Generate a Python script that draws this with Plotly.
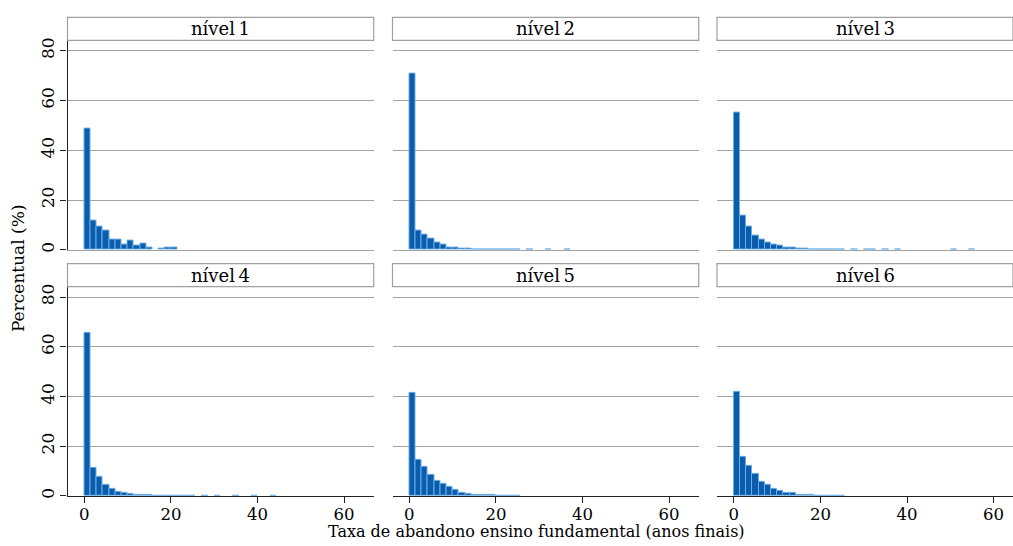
import plotly.graph_objects as go

# Histogram of dropout rate (percent of schools per bin), one panel per level
bin_width = 1.43
panel_titles = ["nível\u20091", "nível\u20092", "nível\u20093",
                "nível\u20094", "nível\u20095", "nível\u20096"]

nivel_1 = [48.7, 11.8, 9.3, 7.6, 3.9, 3.9, 1.9, 3.5, 1.5, 2.3, 0.7, 0.0, 0.3, 0.9, 0.9]
nivel_2 = [70.9, 7.6, 6.0, 4.3, 2.7, 2.1, 0.9, 0.8, 0.4, 0.3, 0.2, 0.2, 0.1, 0.1,
           0.1, 0.1, 0.1, 0.05, 0.0, 0.05, 0.0, 0.0, 0.05, 0.0, 0.0, 0.05]
nivel_3 = [55.0, 13.9, 9.4, 5.8, 4.2, 2.9, 1.9, 1.5, 0.9, 0.7, 0.4, 0.3, 0.2, 0.15,
           0.1, 0.1, 0.05, 0.05, 0.0, 0.05, 0.0, 0.05, 0.05, 0.0, 0.05, 0.0,
           0.05, 0.0, 0.0, 0.0, 0.0, 0.0, 0.0, 0.0, 0.0, 0.05, 0.0, 0.0, 0.05]
nivel_4 = [65.6, 11.2, 7.6, 4.4, 2.8, 1.8, 1.1, 0.7, 0.4, 0.3, 0.2, 0.15, 0.1, 0.1,
           0.05, 0.05, 0.05, 0.05, 0.0, 0.05, 0.0, 0.05, 0.0, 0.0, 0.05, 0.0,
           0.0, 0.05, 0.0, 0.0, 0.05]
nivel_5 = [41.6, 14.4, 11.6, 8.4, 6.0, 4.9, 3.7, 2.4, 1.3, 0.8, 0.4, 0.4, 0.3, 0.2,
           0.1, 0.1, 0.05, 0.05]
nivel_6 = [41.9, 15.7, 12.0, 8.8, 5.7, 4.5, 2.8, 2.0, 1.2, 1.0, 0.4, 0.3, 0.2, 0.15,
           0.1, 0.1, 0.05, 0.05]
series = [nivel_1, nivel_2, nivel_3, nivel_4, nivel_5, nivel_6]

y_ticks = [0, 20, 40, 60, 80]
x_ticks = [0, 20, 40, 60]

W, H = 1013, 546
FONT = "DejaVu Serif"
FILL = "#0a5cad"
EDGE = "#6cade6"
GRID = "#a3a3a3"
AXIS = "#222222"

# panel geometry in pixels
col_px = [(67.5, 373.7), (392.5, 698.7), (717.0, 1013.0)]
row_px = [(38.0, 249.5), (287.0, 498.3)]
px_per_unit = 4.33
x0_offset = 16.8  # pixels from panel left edge to x = 0


def fx(px):
    return px / W


def fy(py):
    return 1 - py / H


fig = go.Figure()
layout = dict(
    width=W, height=H,
    margin=dict(l=0, r=0, t=0, b=0),
    paper_bgcolor="white", plot_bgcolor="white",
    showlegend=False, bargap=0,
    font=dict(family=FONT, size=17, color="black"),
)
shapes, annotations = [], []

for i, vals in enumerate(series):
    r, c = divmod(i, 3)
    k = "" if i == 0 else str(i + 1)
    xl, xr = col_px[c]
    yt, yb = row_px[r]
    # empty bins are not drawn
    centers = [(j + 0.5) * bin_width for j, v in enumerate(vals) if v > 0]
    heights = [v for v in vals if v > 0]
    fig.add_trace(go.Bar(
        x=centers, y=heights, width=bin_width,
        marker=dict(color=FILL, line=dict(color=EDGE, width=1)),
        xaxis="x" + k, yaxis="y" + k, hoverinfo="x+y",
    ))
    x_lo = -x0_offset / px_per_unit
    x_hi = x_lo + (xr - xl) / px_per_unit
    bottom = r == 1
    layout["xaxis" + k] = dict(
        domain=[fx(xl), fx(xr)], anchor="y" + k, range=[x_lo, x_hi],
        showgrid=False, zeroline=False,
        showline=True, linecolor=AXIS if bottom else GRID,
        linewidth=1.4 if bottom else 1,
        tickvals=x_ticks, ticks="outside" if bottom else "",
        ticklen=6, tickcolor=AXIS, tickwidth=1.2, ticklabelstandoff=-3,
        showticklabels=bottom, tickfont=dict(family=FONT, size=16.5),
    )
    left = c == 0
    layout["yaxis" + k] = dict(
        domain=[fy(yb), fy(yt)], anchor="x" + k, range=[0, 84.1],
        tickvals=y_ticks, showgrid=True, gridcolor=GRID, gridwidth=1,
        zeroline=False,
        showline=left, linecolor=AXIS, linewidth=1.2,
        ticks="outside" if left else "", ticklen=6, tickcolor=AXIS, tickwidth=1.2,
        showticklabels=left, tickangle=-90, tickfont=dict(family=FONT, size=17),
    )
    # strip header above each panel
    sy0, sy1 = yt - 23.5, yt - 0.3
    shapes.append(dict(type="rect", xref="paper", yref="paper",
                       x0=fx(xl), x1=fx(xr), y0=fy(sy1), y1=fy(sy0),
                       line=dict(color="#a0a0a0", width=1.2), fillcolor="white"))
    annotations.append(dict(text=panel_titles[i], xref="paper", yref="paper",
                            x=fx((xl + min(xr, xl + 306.2)) / 2), y=fy((sy0 + sy1) / 2),
                            xanchor="center", yanchor="middle", showarrow=False,
                            font=dict(family=FONT, size=18)))

annotations.append(dict(text="Taxa de abandono ensino fundamental (anos finais)",
                        xref="paper", yref="paper", x=fx(536.5), y=0,
                        xanchor="center", yanchor="bottom", showarrow=False,
                        font=dict(family=FONT, size=16)))
annotations.append(dict(text="Percentual (%)", xref="paper", yref="paper",
                        x=fx(18), y=fy(268), textangle=-90,
                        xanchor="center", yanchor="middle", showarrow=False,
                        font=dict(family=FONT, size=17)))

layout["shapes"] = shapes
layout["annotations"] = annotations
fig.update_layout(**layout)
fig.write_html("out.html")
